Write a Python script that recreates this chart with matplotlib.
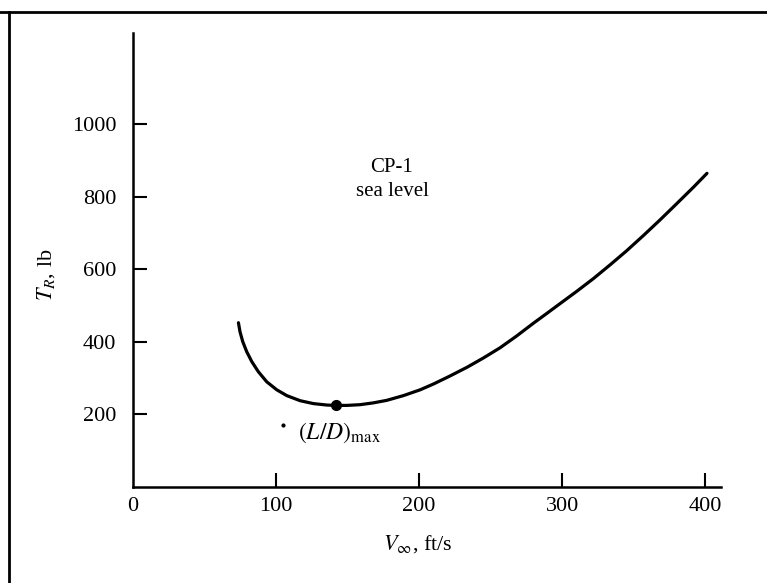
import matplotlib
matplotlib.use("Agg")
import matplotlib.pyplot as plt
from matplotlib.lines import Line2D

plt.rcParams['font.family'] = ['Liberation Serif', 'DejaVu Serif']
plt.rcParams['mathtext.fontset'] = 'stix'

# Data
velocity = [73.7, 74.8, 76.7, 79.5, 83.0, 87.6, 93.5, 100.5, 107.5, 116.8,
            126.1, 135.5, 142.0, 149.4, 158.7, 168.0, 177.4, 189.0, 200.7, 210.0,
            221.0, 233.4, 245.0, 256.6, 268.0, 280.0, 289.0, 298.6, 310.3, 321.9,
            333.6, 345.2, 356.9, 368.5, 380.2, 391.8, 401.2]
thrust = [453, 428, 401, 373, 346, 318, 290, 268, 252, 238,
          230, 226, 225, 225, 227, 232, 239, 252, 268, 284,
          305, 330, 356, 384, 416, 452, 478, 506, 540, 575,
          613, 652, 694, 737, 782, 827, 865]
ld_max_point = (142, 225)
small_dot = (105, 171)
x_ticks = [0, 100, 200, 300, 400]
y_ticks = [200, 400, 600, 800, 1000]

fig = plt.figure(figsize=(7.67, 5.83), dpi=100)
ax = fig.add_axes([133/767, 96/583, 588/767, 454/583])

ax.plot(velocity, thrust, color='black', lw=2.3, solid_capstyle='round',
        solid_joinstyle='round')
ax.plot([ld_max_point[0]], [ld_max_point[1]], 'o', color='black', ms=7)
ax.plot([small_dot[0]], [small_dot[1]], 'o', color='black', ms=2)

ax.set_xlim(0, 411)
ax.set_ylim(0, 1252)
ax.set_xticks(x_ticks)
ax.set_yticks(y_ticks)
ax.set_xticklabels([str(t) for t in x_ticks])
ax.set_yticklabels([str(t) for t in y_ticks])

for s in ['top', 'right']:
    ax.spines[s].set_visible(False)
for s in ['left', 'bottom']:
    ax.spines[s].set_linewidth(1.8)
ax.tick_params(direction='in', length=10, width=1.5, labelsize=16)
ax.tick_params(axis='x', pad=7)
ax.tick_params(axis='y', pad=12)
ax.xaxis.get_major_ticks()[0].tick1line.set_visible(False)

ax.set_xlabel(r"$V_\infty$, ft/s", fontsize=16)
ax.xaxis.set_label_coords((418 - 133) / 588, -(533 - 487) / 454)
ax.set_ylabel(r"$T_R$, lb", fontsize=16)
ax.yaxis.set_label_coords(-(133 - 57) / 588, (487 - 275) / 454)

ax.text(181, 880, "CP-1", ha='center', va='center', fontsize=15)
ax.text(181, 814, "sea level", ha='center', va='center', fontsize=15)
ax.text(115, 149, r"$(L/D)_{\mathrm{max}}$", ha='left', va='center', fontsize=17)

# frame lines of the scanned page
fig.add_artist(Line2D([0, 1], [1 - 12/583, 1 - 12/583], color='black', lw=2, transform=fig.transFigure))
fig.add_artist(Line2D([9/767, 9/767], [0, 1 - 12/583], color='black', lw=2, transform=fig.transFigure))

fig.savefig("out.png", dpi=100)
